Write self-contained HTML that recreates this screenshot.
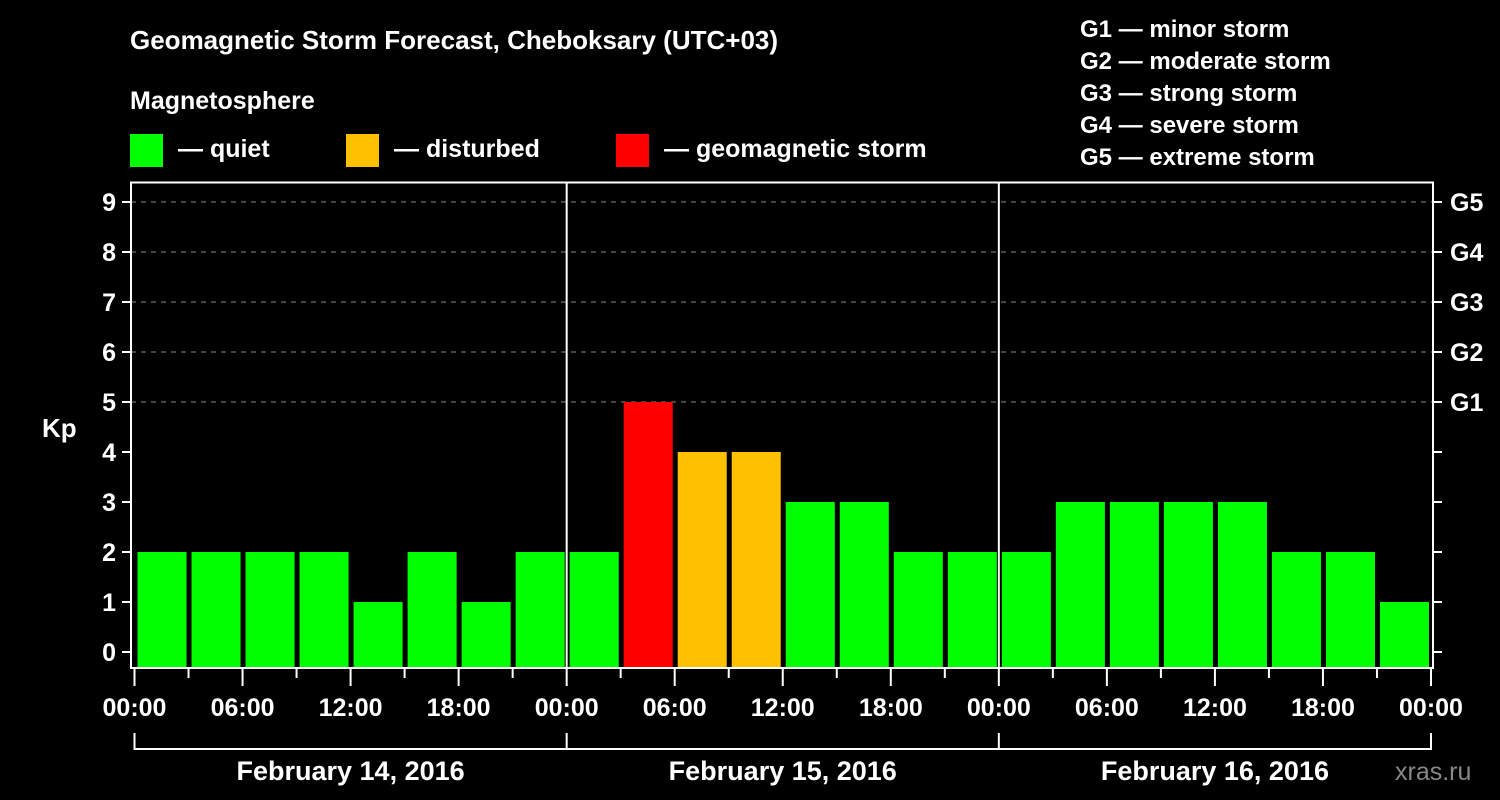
<!DOCTYPE html>
<html><head><meta charset="utf-8"><style>
html,body{margin:0;padding:0;background:#000;}
svg{display:block;font-family:"Liberation Sans",Arial,sans-serif;font-weight:bold;}
</style></head><body>
<svg id="chart" width="1500" height="800" viewBox="0 0 1500 800">
<rect width="1500" height="800" fill="#000"/>
<text x="130" y="49" fill="#fff" font-size="26">Geomagnetic Storm Forecast, Cheboksary (UTC+03)</text>
<text x="130" y="109" fill="#fff" font-size="25">Magnetosphere</text>
<g><rect x="130" y="134" width="33" height="33" fill="#00ff00"/><text x="178" y="157" fill="#fff" font-size="25">— quiet</text></g>
<g><rect x="346" y="134" width="33" height="33" fill="#ffc000"/><text x="394" y="157" fill="#fff" font-size="25">— disturbed</text></g>
<g><rect x="616" y="134" width="33" height="33" fill="#ff0000"/><text x="664" y="157" fill="#fff" font-size="25">— geomagnetic storm</text></g>
<g fill="#fff" font-size="24">
<text x="1080" y="37">G1 — minor storm</text>
<text x="1080" y="69">G2 — moderate storm</text>
<text x="1080" y="101">G3 — strong storm</text>
<text x="1080" y="133">G4 — severe storm</text>
<text x="1080" y="165">G5 — extreme storm</text>
</g>
<text x="42" y="437" fill="#fff" font-size="26">Kp</text>
<text x="1395" y="780" fill="#888" font-size="25" font-weight="normal">xras.ru</text>
<g id="grid"></g><g id="bars"></g><g id="axes"></g>
</svg>
<script>
const kpValues = [2,2,2,2,1,2,1,2, 2,5,4,4,3,3,2,2, 2,3,3,3,3,2,2,1];
const dayLabels = ["February 14, 2016","February 15, 2016","February 16, 2016"];
const hourLabels = ["00:00","06:00","12:00","18:00"];
const gLabels = ["G1","G2","G3","G4","G5"];
const NS="http://www.w3.org/2000/svg";
const X0=134.5, X1=1431, Y0=652, UNIT=50, BOTTOM=668, TOP=182.5;
const slot=(X1-X0)/kpValues.length;
const xOf=i=>X0+i*slot;
const yOf=v=>Y0-v*UNIT;
function mk(tag,attrs,parent){const e=document.createElementNS(NS,tag);for(const k in attrs)e.setAttribute(k,attrs[k]);parent.appendChild(e);return e;}
const grid=document.getElementById('grid'),bars=document.getElementById('bars'),axes=document.getElementById('axes');
for(let v=5;v<=9;v++){
  const l=mk('line',{x1:131,x2:1433,y1:yOf(v),y2:yOf(v),stroke:'#888','stroke-dasharray':'5,5','stroke-width':1},grid);
  
  
}
kpValues.forEach((v,i)=>{
  const c=v>=5?'#ff0000':(v>=4?'#ffc000':'#00ff00');
  const r=mk('rect',{x:xOf(i)+3,y:yOf(v),width:slot-5,height:BOTTOM-yOf(v),fill:c},bars);
  
  
});
// frame
const f=mk('rect',{x:131,y:TOP,width:1302,height:BOTTOM-TOP,fill:'none',stroke:'#fff','stroke-width':2},axes);


for(let d=1;d<dayLabels.length;d++){
  const x=xOf(d*8);
  const l=mk('line',{x1:x,x2:x,y1:TOP,y2:BOTTOM,stroke:'#fff','stroke-width':2},axes);
  
  
}
for(let v=0;v<=9;v++){
  mk('line',{x1:122,x2:131,y1:yOf(v),y2:yOf(v),stroke:'#fff','stroke-width':2},axes);
  const t=mk('text',{x:116,y:yOf(v)+9,fill:'#fff','font-size':25,'text-anchor':'end'},axes);
  t.textContent=v;
  
  
  mk('line',{x1:1433,x2:1442,y1:yOf(v),y2:yOf(v),stroke:'#fff','stroke-width':2},axes);
}
gLabels.forEach((g,i)=>{
  const t=mk('text',{x:1450,y:yOf(5+i)+9,fill:'#fff','font-size':25},axes);
  t.textContent=g;
  
  
});
for(let i=0;i<=kpValues.length;i++){
  const x=xOf(i), major=i%2===0;
  mk('line',{x1:x,x2:x,y1:669,y2:major?686:678,stroke:'#fff','stroke-width':2},axes);
  if(major){
    const t=mk('text',{x:x,y:716,fill:'#fff','font-size':25,'text-anchor':'middle'},axes);
    t.textContent=hourLabels[(i/2)%4];
    
    
  }
}
mk('line',{x1:xOf(0),x2:X1,y1:749,y2:749,stroke:'#fff','stroke-width':2},axes);
for(let d=0;d<=dayLabels.length;d++){
  mk('line',{x1:xOf(d*8),x2:xOf(d*8),y1:733,y2:750,stroke:'#fff','stroke-width':2},axes);
}
dayLabels.forEach((s,d)=>{
  const t=mk('text',{x:(xOf(d*8)+xOf(d*8+8))/2,y:780,fill:'#fff','font-size':27,'text-anchor':'middle'},axes);
  t.textContent=s;
  
  
});
</script>
</body></html>
